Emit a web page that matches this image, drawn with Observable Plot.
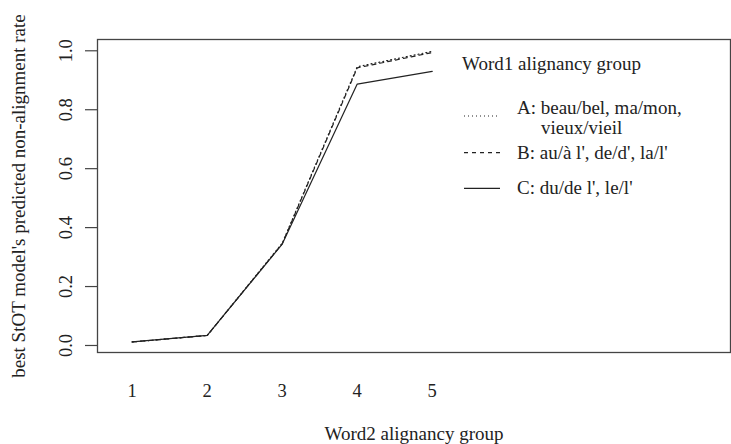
<!DOCTYPE html>
<html><head><meta charset="utf-8">
<script src="https://cdn.jsdelivr.net/npm/d3@7"></script>
<script src="https://cdn.jsdelivr.net/npm/@observablehq/plot@0.6"></script>
<style>
body{margin:0;background:#fff}
#c{position:relative;width:731px;height:444px;font-family:"Liberation Serif",serif}
#c svg{display:block}
#legend{position:absolute;left:0;top:0}
</style>
</head><body><div id="c"></div>
<script>
// ---- data ----
const word2Groups = [1, 2, 3, 4, 5];
const seriesNames = ["A", "B", "C"];
const groupA = [0.012, 0.034, 0.347, 0.946, 0.998];
const groupB = [0.012, 0.034, 0.345, 0.942, 0.994];
const groupC = [0.012, 0.034, 0.344, 0.887, 0.930];
const yTicks = [0, 0.2, 0.4, 0.6, 0.8, 1.0];
const legendTitle = "Word1 alignancy group";
const legendLabels = [["A: beau/bel, ma/mon,", "vieux/vieil"], ["B: au/à l', de/d', la/l'"], ["C: du/de l', le/l'"]];
const xTitle = "Word2 alignancy group";
const yTitle = "best StOT model's predicted non-alignment rate";

// ---- styles ----
const dashes = {A: "1,3", B: "4,4", C: null};
const ink = "#222";
const fs = 19;
const fsTick = 18.5;

const seriesVals = [groupA, groupB, groupC];
const rows = [];
seriesVals.forEach((vals, i) => vals.forEach((v, j) => rows.push({g: seriesNames[i], x: word2Groups[j], y: v})));

const plot = Plot.plot({
  width: 731, height: 444,
  marginLeft: 97, marginRight: 1, marginTop: 39, marginBottom: 92,
  style: {fontFamily: "Liberation Serif", fontSize: fs + "px", color: ink, background: "#fff"},
  x: {domain: [0.537, 8.977], axis: null},
  y: {domain: [-0.0238, 1.0383], axis: null},
  marks: [
    Plot.frame({stroke: "#444", strokeWidth: 1.3}),
    Plot.axisY({ticks: yTicks, tickSize: 12, tickFormat: () => "", stroke: "#444", strokeWidth: 1.2, label: null}),
    Plot.text(yTicks, {y: d => d, text: d => d.toFixed(1), frameAnchor: "left", dx: -31, rotate: -90,
      lineAnchor: "middle", textAnchor: "middle", fontSize: fsTick, fill: ink}),
    Plot.axisX({ticks: word2Groups, tickSize: 0, tickPadding: 31.5, tickFormat: d => String(d), fontSize: fsTick, label: null}),
    ...seriesNames.map(s => Plot.line(rows.filter(r => r.g === s), {
      x: "x", y: "y", stroke: ink, strokeWidth: 1.2, strokeDasharray: dashes[s]
    })),
    Plot.text([xTitle], {frameAnchor: "bottom", lineAnchor: "bottom", textAnchor: "middle", dy: 87, text: d => d, fontSize: fs, fill: ink}),
    Plot.text([yTitle], {frameAnchor: "left", lineAnchor: "bottom", textAnchor: "middle", rotate: -90, dx: -73, text: d => d, fontSize: fs, fill: ink})
  ]
});
const c = document.getElementById("c");
c.appendChild(plot);

// ---- legend overlay ----
const svg = d3.select(c).append("svg").attr("id", "legend").attr("width", 731).attr("height", 444)
  .style("font-family", "Liberation Serif").style("font-size", fs + "px");
svg.append("text").attr("x", 462).attr("y", 70).attr("fill", ink).text(legendTitle);
const lineYs = [116, 152.7, 188.3];
const baseYs = [114, 159, 193.5];
seriesNames.forEach((s, i) => {
  svg.append("line").attr("x1", 464).attr("x2", 500).attr("y1", lineYs[i]).attr("y2", lineYs[i])
    .attr("stroke", ink).attr("stroke-width", 1.2).attr("stroke-dasharray", dashes[s]);
  legendLabels[i].forEach((t, k) => {
    svg.append("text").attr("x", k === 0 ? 517 : 541).attr("y", baseYs[i] + k * 19.5).attr("fill", ink).text(t);
  });
});
</script>
</body></html>
